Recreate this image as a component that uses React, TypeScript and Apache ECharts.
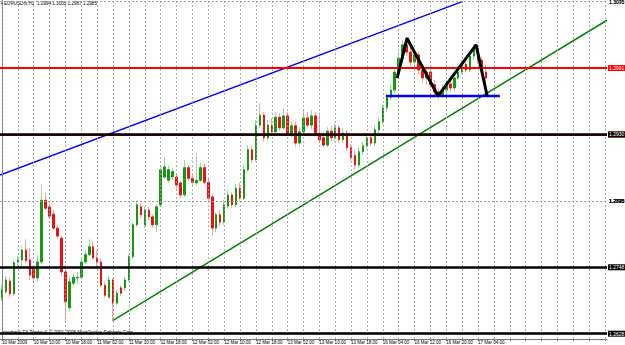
import React, { useEffect, useRef } from "react";
import * as echarts from "echarts";

const timeLabels = ["10 Mar 2009","10 Mar 10:00","10 Mar 18:00","11 Mar 02:00","11 Mar 10:00","11 Mar 18:00","12 Mar 02:00","12 Mar 10:00","12 Mar 18:00","13 Mar 02:00","13 Mar 10:00","13 Mar 18:00","16 Mar 04:00","16 Mar 12:00","16 Mar 20:00","17 Mar 04:00"];

const priceTicks = [1.3095,1.3070,1.3045,1.3020,1.2995,1.2970,1.2945,1.2920,1.2895,1.2870,1.2845,1.2820,1.2795,1.2770,1.2745,1.2720,1.2695,1.2670,1.2645,1.2620,1.2595];
const hiddenTickLabels = [1.2995, 1.2870, 1.2745];

const opens = [1.2654,1.2663,1.2679,1.2660,1.2708,1.2711,1.2726,1.2711,1.2699,1.2684,
1.2708,1.2801,1.2791,1.2780,1.2759,1.2744,1.2693,1.2639,1.2676,1.2684,
1.2685,1.2708,1.2719,1.2731,1.2714,1.2708,1.2673,1.2655,1.2681,1.2646,
1.2669,1.2669,1.2681,1.2716,1.2764,1.2791,1.2764,1.2786,1.2776,1.2764,
1.2794,1.2836,1.2831,1.2836,1.2836,1.2827,1.2809,1.2850,1.2834,1.2827,
1.2831,1.2850,1.2828,1.2806,1.2759,1.2779,1.2768,1.2792,1.2809,1.2794,
1.2819,1.2804,1.2847,1.2877,1.2862,1.2914,1.2929,1.2895,1.2914,1.2904,
1.2926,1.2910,1.2928,1.2902,1.2913,1.2887,1.2904,1.2925,1.2914,1.2928,
1.2902,1.2895,1.2884,1.2905,1.2895,1.2910,1.2892,1.2902,1.2880,1.2868,
1.2854,1.2874,1.2883,1.2895,1.2887,1.2907,1.2919,1.2940,1.2956,1.2967,
1.2994,1.3015,1.3035,1.3024,1.3009,1.3020,1.2997,1.2985,1.2994,1.2975,
1.2964,1.2959,1.2967,1.2976,1.2970,1.2985,1.2994,1.3006,1.2997,1.3018,
1.3029,1.3012,1.2994];

const closes = [1.2666,1.2681,1.2660,1.2707,1.2711,1.2726,1.2710,1.2688,1.2684,1.2708,
1.2801,1.2789,1.2777,1.2759,1.2747,1.2693,1.2648,1.2678,1.2685,1.2685,
1.2708,1.2719,1.2731,1.2714,1.2708,1.2673,1.2658,1.2681,1.2646,1.2661,
1.2661,1.2681,1.2716,1.2764,1.2794,1.2779,1.2786,1.2776,1.2764,1.2791,
1.2847,1.2851,1.2847,1.2844,1.2824,1.2809,1.2850,1.2834,1.2828,1.2831,
1.2850,1.2828,1.2804,1.2759,1.2779,1.2768,1.2794,1.2809,1.2794,1.2819,
1.2804,1.2847,1.2877,1.2862,1.2914,1.2929,1.2895,1.2914,1.2904,1.2926,
1.2910,1.2928,1.2902,1.2913,1.2887,1.2904,1.2925,1.2914,1.2928,1.2902,
1.2892,1.2884,1.2905,1.2895,1.2910,1.2892,1.2902,1.2880,1.2865,1.2854,
1.2874,1.2883,1.2895,1.2887,1.2907,1.2919,1.2940,1.2956,1.2967,1.2994,
1.3015,1.3035,1.3024,1.3009,1.3020,1.2997,1.2985,1.2994,1.2975,1.2964,
1.2959,1.2967,1.2976,1.2970,1.2985,1.2994,1.3006,1.2997,1.3018,1.3029,
1.3012,1.2994,1.2985];

const lows = [1.2648,1.2660,1.2655,1.2657,1.2702,1.2699,1.2707,1.2681,1.2676,1.2678,
1.2705,1.2786,1.2774,1.2756,1.2743,1.2687,1.2618,1.2633,1.2672,1.2675,
1.2682,1.2705,1.2716,1.2711,1.2702,1.2670,1.2654,1.2653,1.2618,1.2642,
1.2657,1.2664,1.2678,1.2713,1.2761,1.2774,1.2759,1.2771,1.2759,1.2753,
1.2791,1.2833,1.2827,1.2831,1.2819,1.2804,1.2806,1.2830,1.2824,1.2822,
1.2828,1.2824,1.2798,1.2747,1.2753,1.2762,1.2764,1.2788,1.2789,1.2791,
1.2800,1.2801,1.2844,1.2857,1.2859,1.2910,1.2889,1.2890,1.2898,1.2901,
1.2905,1.2907,1.2898,1.2896,1.2881,1.2883,1.2901,1.2910,1.2908,1.2898,
1.2887,1.2880,1.2880,1.2890,1.2890,1.2887,1.2887,1.2875,1.2859,1.2847,
1.2850,1.2869,1.2878,1.2883,1.2883,1.2902,1.2914,1.2934,1.2952,1.2962,
1.2990,1.3009,1.3018,1.3003,1.3000,1.2991,1.2979,1.2976,1.2970,1.2958,
1.2953,1.2955,1.2961,1.2964,1.2965,1.2982,1.2990,1.2993,1.2994,1.3012,
1.3006,1.2988,1.2967];

const highs = [1.2673,1.2687,1.2684,1.2711,1.2717,1.2732,1.2742,1.2729,1.2702,1.2719,
1.2824,1.2813,1.2795,1.2786,1.2764,1.2747,1.2696,1.2684,1.2690,1.2693,
1.2714,1.2726,1.2742,1.2739,1.2726,1.2714,1.2678,1.2687,1.2684,1.2666,
1.2673,1.2685,1.2720,1.2768,1.2801,1.2797,1.2791,1.2791,1.2780,1.2795,
1.2853,1.2865,1.2853,1.2850,1.2841,1.2831,1.2862,1.2854,1.2839,1.2872,
1.2857,1.2856,1.2834,1.2810,1.2783,1.2786,1.2801,1.2816,1.2813,1.2825,
1.2827,1.2854,1.2884,1.2883,1.2922,1.2947,1.2934,1.2922,1.2925,1.2934,
1.2932,1.2940,1.2934,1.2920,1.2919,1.2910,1.2937,1.2934,1.2937,1.2934,
1.2929,1.2904,1.2911,1.2913,1.2916,1.2914,1.2910,1.2907,1.2886,1.2877,
1.2880,1.2889,1.2901,1.2902,1.2913,1.2925,1.2946,1.2962,1.2975,1.3000,
1.3024,1.3042,1.3047,1.3032,1.3027,1.3024,1.3006,1.3000,1.2997,1.2982,
1.2970,1.2975,1.2982,1.2982,1.2991,1.3003,1.3012,1.3015,1.3024,1.3036,
1.3033,1.3017,1.3005];

const redLevels = [1.2991, 1.2865];
const blackLevels = [1.2930, 1.2748, 1.2628];
const bidPrice = 1.2985;

const blueTrend = [[-0.5, 1.2839], [116, 1.3100]];
const greenTrend = [[28, 1.2620], [152.5, 1.3072]];
const zigzag = [[99.6, 1.2985], [102.1, 1.3045], [109.9, 1.2958], [119.5, 1.3035], [122.3, 1.2958]];
const neckline = [[96.8, 1.2958], [125.5, 1.2958]];

const headerText = "EURUSDm,H1  1.2994 1.3005 1.2967 1.2985";
const copyrightText = "Interbank FX Trader 4, \u00A9 2001-2008 MetaQuotes Software Corp.";

const SLOTS = 153;
const FONT = "Liberation Sans, Arial, sans-serif";

export default function App() {
  const ref = useRef<HTMLDivElement>(null);
  useEffect(() => {
    if (!ref.current) return;
    const chart = echarts.init(ref.current, undefined, { renderer: "svg" });
    const cats = Array.from({ length: SLOTS }, (_, i) => String(i));
    const wickData = opens.map((o, i) => [o, closes[i], lows[i], highs[i]]);
    const bodyData = opens.map((o, i) => [o, closes[i], Math.min(o, closes[i]), Math.max(o, closes[i])]);

    const hGrid = priceTicks.map((p) => ({
      yAxis: p,
      label: {
        show: hiddenTickLabels.indexOf(p) < 0,
        position: "end",
        distance: 2,
        formatter: p.toFixed(4),
        fontSize: 5,
        color: "#000",
        fontFamily: FONT,
      },
    }));
    const vGrid: any[] = [];
    for (let i = 0; i < SLOTS; i += 4) vGrid.push({ xAxis: i, label: { show: false } });

    const boxLabel = (p: number, bg: string) => ({
      show: true,
      position: "end",
      distance: 1,
      formatter: p.toFixed(4),
      fontSize: 5,
      color: "#fff",
      backgroundColor: bg,
      padding: [1, 1, 0, 1],
      fontFamily: FONT,
    });
    const levelLines = [
      ...redLevels.map((p) => ({ yAxis: p, lineStyle: { color: "#ff0000", width: 2, type: "solid" }, label: boxLabel(p, "#ff0000") })),
      ...blackLevels.map((p) => ({ yAxis: p, lineStyle: { color: "#000", width: 2.5, type: "solid" }, label: boxLabel(p, "#000") })),
      { yAxis: bidPrice, lineStyle: { opacity: 0 }, label: boxLabel(bidPrice, "#000") },
    ];

    chart.setOption({
      animation: false,
      backgroundColor: "#ffffff",
      grid: { left: 0, right: 18, top: 0, bottom: 6, containLabel: false, outerBoundsMode: "none" },
      xAxis: [
        {
          type: "category",
          data: cats,
          boundaryGap: true,
          axisLine: { show: true, lineStyle: { color: "#777", width: 1 } },
          axisTick: { show: true, alignWithLabel: true, interval: 3, length: 2, lineStyle: { color: "#777" } },
          axisLabel: {
            show: true,
            interval: (idx: number) => idx % 8 === 0 && idx / 8 < timeLabels.length,
            formatter: (_v: string, idx: number) => (idx % 8 === 0 ? timeLabels[idx / 8] || "" : ""),
            align: "left",
            margin: 1,
            fontSize: 4.5,
            color: "#000",
            fontFamily: FONT,
          },
          splitLine: { show: false },
        },
        { type: "value", min: -0.5, max: SLOTS - 0.5, show: false },
      ],
      yAxis: {
        type: "value",
        position: "right",
        min: 1.2592,
        max: 1.31025,
        scale: true,
        axisLine: { show: true, lineStyle: { color: "#777", width: 1 } },
        axisTick: { show: false },
        axisLabel: { show: false },
        splitLine: { show: false },
      },
      graphic: [
        { type: "polygon", shape: { points: [[0.5, 3.5], [3, 1.8], [3, 5.2]] }, style: { fill: "#555" } },
        { type: "text", left: 4, top: 1, style: { text: headerText, fontSize: 4.6, fill: "#000", fontFamily: FONT } },
        { type: "text", left: 2, top: 330, style: { text: copyrightText, fontSize: 4.6, fill: "#000", fontFamily: FONT } },
      ],
      series: [
        {
          type: "line",
          xAxisIndex: 1,
          data: [],
          z: 1,
          silent: true,
          markLine: {
            silent: true,
            symbol: ["none", "none"],
            lineStyle: { color: "#9a9a9a", type: [2, 2], width: 0.8 },
            data: [...hGrid, ...vGrid],
          },
        },
        {
          type: "candlestick",
          xAxisIndex: 0,
          data: wickData,
          barWidth: 1,
          z: 2,
          itemStyle: { color: "#9fd69f", color0: "#ff9f9f", borderColor: "#9fd69f", borderColor0: "#ff9f9f", borderWidth: 1 },
        },
        {
          type: "candlestick",
          xAxisIndex: 0,
          data: bodyData,
          barWidth: 2,
          z: 3,
          itemStyle: { color: "#139a13", color0: "#ee1111", borderColor: "#139a13", borderColor0: "#ee1111", borderWidth: 1 },
        },
        { type: "line", xAxisIndex: 1, data: blueTrend, symbol: "none", z: 4, clip: true, lineStyle: { color: "#0000ff", width: 1.5 } },
        { type: "line", xAxisIndex: 1, data: greenTrend, symbol: "none", z: 4, clip: true, lineStyle: { color: "#008000", width: 1.5 } },
        { type: "line", xAxisIndex: 1, data: neckline, symbol: "none", z: 5, clip: true, lineStyle: { color: "#0000ff", width: 2.5 } },
        {
          type: "line",
          xAxisIndex: 1,
          data: zigzag,
          symbol: "none",
          z: 6,
          clip: true,
          lineStyle: { color: "#000", width: 3 },
          markLine: { silent: true, symbol: ["none", "none"], data: levelLines },
        },
      ],
    });
    return () => chart.dispose();
  }, []);
  return <div ref={ref} style={{ position: "fixed", left: 0, top: 0, width: 625, height: 345, background: "#fff" }} />;
}
